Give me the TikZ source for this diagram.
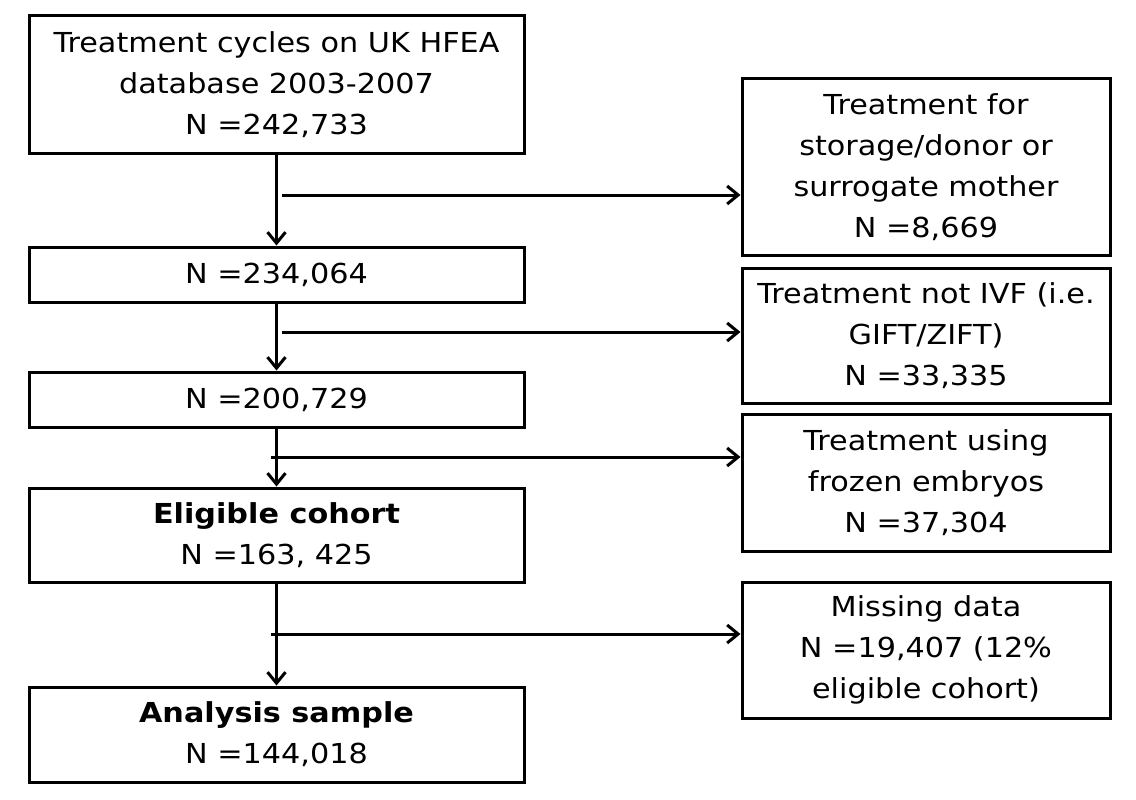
\documentclass[tikz,border=0pt]{standalone}
\usepackage{fontspec}
\setmainfont{DejaVu Sans}[FakeStretch=1.1]
\usetikzlibrary{arrows.meta,calc}
\begin{document}
\begin{tikzpicture}[x=1pt,y=-1pt,
  box/.style={draw,line width=3pt,align=center,inner sep=0pt,
    font={\fontsize{27.5}{41}\selectfont}},
  lbox/.style={box,minimum width=495pt},
  rbox/.style={box,minimum width=368pt},
  conn/.style={line width=3pt,-{Straight Barb[length=11pt,width=18pt,line width=3pt]}}]
\useasboundingbox (0,0) rectangle (1136,800);
\fill[white] (0,0) rectangle (1136,800);
\node[lbox,minimum height=137pt] (b1) at (276.5,84.5) {Treatment cycles on UK HFEA\\database 2003-2007\\N =242,733};
\node[lbox,minimum height=55pt] (b2) at (276.5,274.5) {N =234,064};
\node[lbox,minimum height=55pt] (b3) at (276.5,399.5) {N =200,729};
\node[lbox,minimum height=94pt] (b4) at (276.5,535) {\textbf{Eligible cohort}\\N =163, 425};
\node[lbox,minimum height=95pt] (b5) at (276.5,734.5) {\textbf{Analysis sample}\\N =144,018};
\node[rbox,minimum height=176pt] (ra) at (926,167) {Treatment for\\storage/donor or\\surrogate mother\\N =8,669};
\node[rbox,minimum height=135pt] (rb) at (926,335.5) {Treatment not IVF (i.e.\\GIFT/ZIFT)\\N =33,335};
\node[rbox,minimum height=137pt] (rc) at (926,482.5) {Treatment using\\frozen embryos\\N =37,304};
\node[rbox,minimum height=136pt] (rd) at (926,650) {Missing data\\N =19,407 (12\%\\eligible cohort)};
\draw[conn] (b1.south) -- (b2.north);
\draw[conn] (b2.south) -- (b3.north);
\draw[conn] (b3.south) -- (b4.north);
\draw[conn] (b4.south) -- (b5.north);
\coordinate (s1) at (282,195);
\coordinate (s2) at (282,332);
\coordinate (s3) at (271,457);
\coordinate (s4) at (271,634);
\draw[conn] (s1) -- (s1 -| ra.west);
\draw[conn] (s2) -- (s2 -| rb.west);
\draw[conn] (s3) -- (s3 -| rc.west);
\draw[conn] (s4) -- (s4 -| rd.west);
\end{tikzpicture}
\end{document}
